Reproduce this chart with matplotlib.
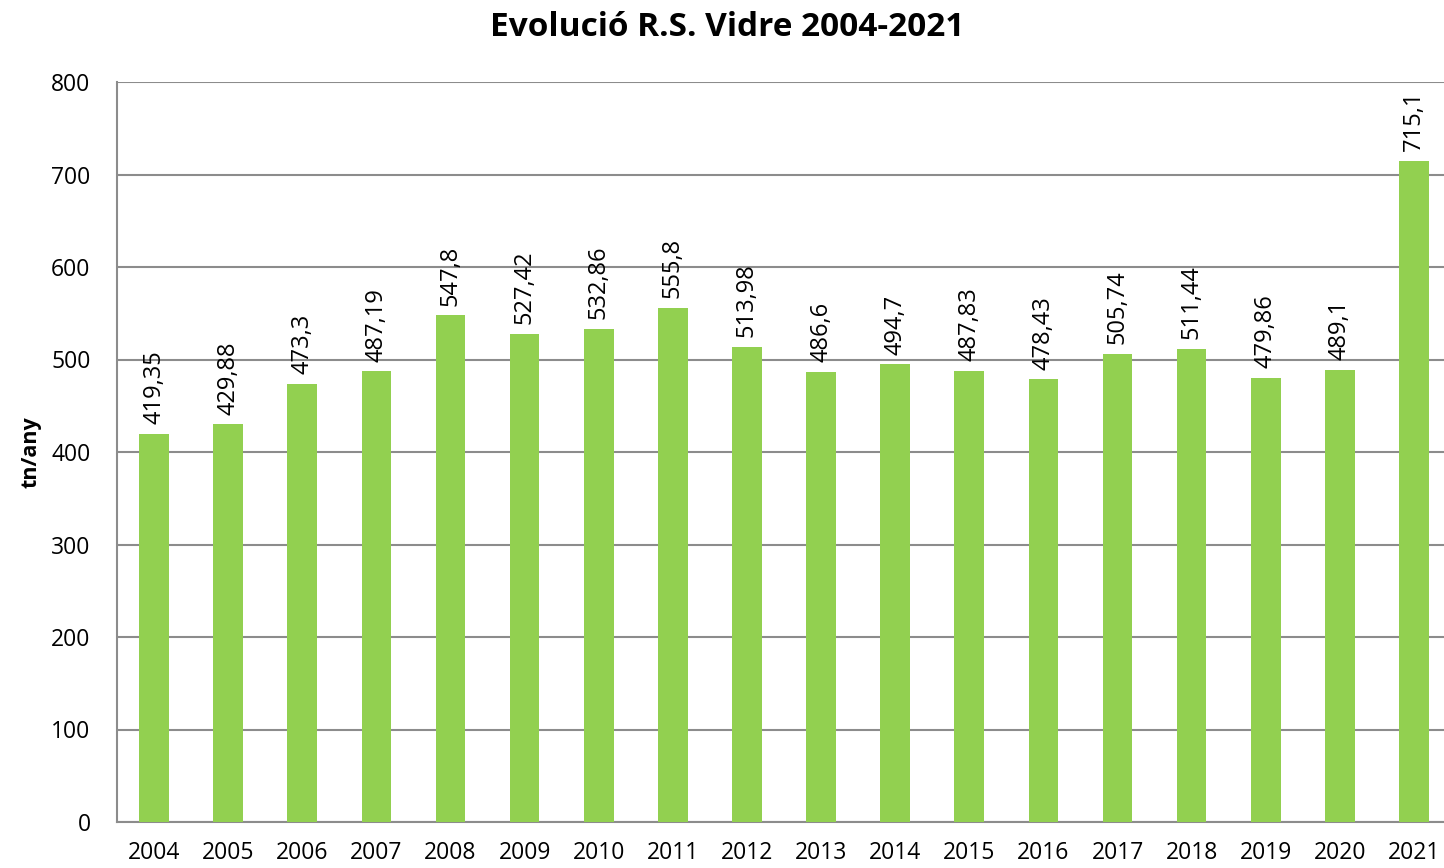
import matplotlib
matplotlib.use("Agg")
import matplotlib.pyplot as plt

years = ["2004", "2005", "2006", "2007", "2008", "2009", "2010", "2011", "2012",
         "2013", "2014", "2015", "2016", "2017", "2018", "2019", "2020", "2021"]
values = [419.35, 429.88, 473.3, 487.19, 547.8, 527.42, 532.86, 555.8, 513.98,
          486.6, 494.7, 487.83, 478.43, 505.74, 511.44, 479.86, 489.1, 715.1]
value_labels = ["419,35", "429,88", "473,3", "487,19", "547,8", "527,42", "532,86", "555,8", "513,98",
                "486,6", "494,7", "487,83", "478,43", "505,74", "511,44", "479,86", "489,1", "715,1"]
yticks = [0, 100, 200, 300, 400, 500, 600, 700, 800]

plt.rcParams['font.family'] = ['Open Sans', 'DejaVu Sans']

W, H = 1444, 868
fig = plt.figure(figsize=(W / 100, H / 100), dpi=100)
left, right, top, bottom = 117, 1444, 82, 822
ax = fig.add_axes([left / W, 1 - bottom / H, (right - left) / W, (bottom - top) / H])

x = list(range(len(years)))
ax.bar(x, values, width=0.4, color="#92D050", zorder=3)

ax.set_ylim(0, 800)
ax.set_yticks(yticks)
ax.set_yticklabels([str(t) for t in yticks], fontsize=16.5)
ax.set_xticks(x)
ax.set_xticklabels(years, fontsize=16.5)
# category spacing ~74.1 px; axes right edge cut at image edge
ax.set_xlim(-0.5, 17.5 - 7 / 74.1)

ax.yaxis.grid(True, color="#8c8c8c", linewidth=1.5, zorder=0)
ax.set_axisbelow(True)
for s in ["top", "right"]:
    ax.spines[s].set_visible(False)
for s in ["left", "bottom"]:
    ax.spines[s].set_color("#8c8c8c")
    ax.spines[s].set_linewidth(1.5)
ax.tick_params(axis="both", length=0)
ax.tick_params(axis="y", pad=19)
ax.tick_params(axis="x", pad=14)

for xi, v, lab in zip(x, values, value_labels):
    ax.annotate(lab, (xi, v), xytext=(0, 7), textcoords="offset points",
                rotation=90, ha="center", va="bottom", fontsize=17)

ax.set_ylabel("tn/any", fontsize=15.5, fontweight="bold", labelpad=7)
fig.text(727 / W, 1 - 28 / H, "Evolució R.S. Vidre 2004-2021", ha="center", va="center",
         fontsize=24, fontweight="bold")

fig.savefig("out.png", dpi=100)
